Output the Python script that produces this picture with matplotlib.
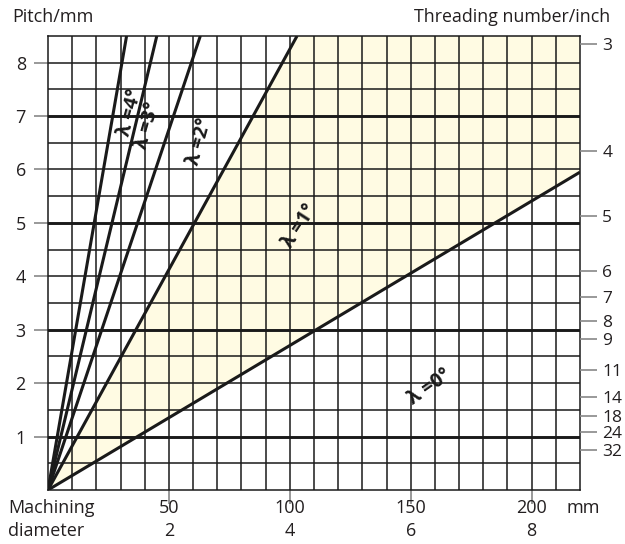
import numpy as np
import matplotlib
matplotlib.use('Agg')
import matplotlib.pyplot as plt
from matplotlib.transforms import blended_transform_factory

plt.rcParams['font.family'] = ['Open Sans', 'DejaVu Sans']

# diameter (mm) / pitch (mm) end points of the lead-angle boundary lines
line_d = [32.5, 45.0, 63.0, 103.0, 220.0]
line_p = [8.5, 8.5, 8.5, 8.5, 5.95]

# lambda labels
lam_text = ['λ =4°', 'λ =3°', 'λ =2°', 'λ =1°', 'λ =0°']
lam_x = [33.9, 41.1, 62.8, 104.0, 157.9]
lam_y = [7.06, 6.82, 6.52, 4.93, 1.93]
lam_rot = [75, 74, 74, 57, 35]

# axes ticks
pitch_ticks = [1, 2, 3, 4, 5, 6, 7, 8]
diam_ticks = [50, 100, 150, 200]
diam_inch = ['2', '4', '6', '8']
tpi = ['3', '4', '5', '6', '7', '8', '9', '11', '14', '18', '24', '32']
tpi_pitch = [8.35, 6.34, 5.12, 4.09, 3.62, 3.16, 2.83, 2.25, 1.74, 1.39, 1.09, 0.74]

txt = '#231f20'
ink = '#1a1a1a'

fig = plt.figure(figsize=(6.25, 5.44), dpi=100)
ax = fig.add_axes([0.0768, 0.0993, 0.8512, 0.8347])
ax.set_xlim(0, 220)
ax.set_ylim(0, 8.5)

# shaded band between the 1.5 and 0.5 deg lines
ax.fill([0, line_d[3], 220, 220], [0, line_p[3], 8.5, line_p[4]],
        color='#fffbe3', zorder=0, lw=0)

# grid
for x in np.arange(10, 220, 10):
    ax.axvline(x, color=ink, lw=1.1, zorder=1)
for y in np.arange(0.5, 8.5, 0.5):
    heavy = (y % 2 == 1)
    ax.axhline(y, color=ink, lw=2.1 if heavy else 1.1, zorder=1)

for d, p in zip(line_d, line_p):
    ax.plot([0, d], [0, p], color=ink, lw=2.2, zorder=3, solid_capstyle='butt')

for t, x, y, r in zip(lam_text, lam_x, lam_y, lam_rot):
    ax.text(x, y, t, rotation=r, ha='center', va='center', fontsize=14,
            fontweight='bold', color=ink, zorder=4, rotation_mode='anchor')

for s in ax.spines.values():
    s.set_color(ink)
    s.set_linewidth(1.1)

ax.set_yticks(pitch_ticks)
ax.set_yticklabels([str(v) for v in pitch_ticks], fontsize=13, color=txt)
ax.set_xticks(diam_ticks)
ax.set_xticklabels([])
ax.tick_params(axis='both', length=10, width=1.2, color='#888888', pad=6)

# bottom labels (mm and inch rows)
tr = blended_transform_factory(ax.transData, fig.transFigure)
for d, i in zip(diam_ticks, diam_inch):
    ax.text(d, 1 - 508 / 544, str(d), transform=tr, ha='center', va='center',
            fontsize=13, color=txt)
    ax.text(d, 1 - 531 / 544, i, transform=tr, ha='center', va='center',
            fontsize=13, color=txt)

ax2 = ax.twinx()
ax2.set_ylim(0, 8.5)
ax2.set_yticks(tpi_pitch)
ax2.set_yticklabels(tpi, fontsize=12.5, color=txt)
ax2.tick_params(axis='y', length=12, width=1.2, color='#888888', pad=4)
for s in ax2.spines.values():
    s.set_visible(False)

fig.text(12 / 625, 1 - 17 / 544, 'Pitch/mm', fontsize=13, va='center', ha='left', color=txt)
fig.text(610 / 625, 1 - 17 / 544, 'Threading number/inch', fontsize=12.8, va='center',
         ha='right', color=txt)
fig.text(8 / 625, 1 - 508 / 544, 'Machining', fontsize=13, va='center', ha='left', color=txt)
fig.text(8 / 625, 1 - 531 / 544, 'diameter', fontsize=13, va='center', ha='left', color=txt)
fig.text(583 / 625, 1 - 508 / 544, 'mm', fontsize=13, va='center', ha='center', color=txt)

fig.savefig('out.png', dpi=100)
